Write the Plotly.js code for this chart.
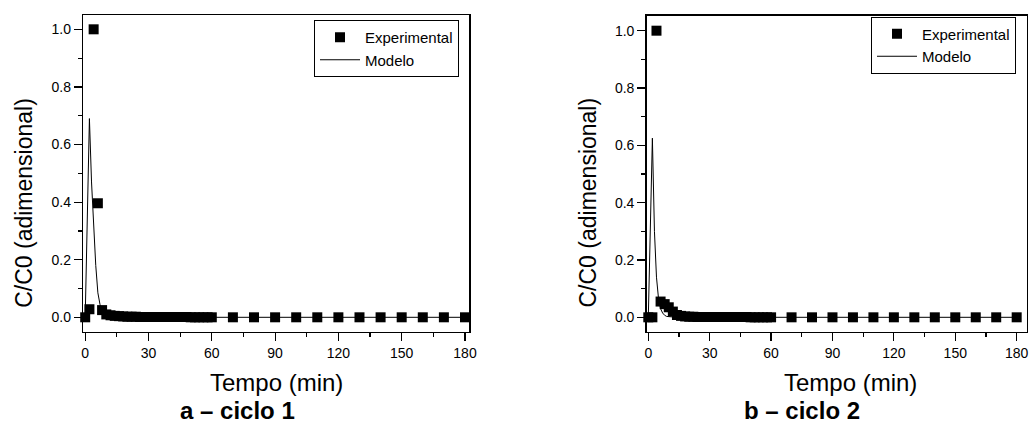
<!DOCTYPE html>
<html>
<head>
<meta charset="utf-8">
<script src="https://cdn.plot.ly/plotly-3.0.1.min.js"></script>
<style>html,body{margin:0;padding:0;background:#fff;}#chart{width:1031px;height:424px;}</style>
</head>
<body>
<div id="chart"></div>
<script>
// ---- data ----
var tExp = [0,2,4,6,8,10,12,14,16,18,20,22,24,26,28,30,32,34,36,38,40,42,44,46,48,50,52,54,56,58,60,70,80,90,100,110,120,130,140,150,160,170,180];
var ciclo1Exp = [0,0.028,1.0,0.396,0.025,0.010,0.007,0.005,0.004,0.003,0.002,0.002,0.002,0.001,0.001,0.001,0.001,0.001,0.001,0.001,0.001,0.001,0.001,0.001,0.001,0,0,0,0,0,0,0,0,0,0,0,0,0,0,0,0,0,0];
var ciclo2Exp = [0,0,1.0,0.055,0.046,0.035,0.020,0.008,0.005,0.003,0.002,0.002,0.001,0.001,0.001,0.001,0.001,0.001,0.001,0.001,0.001,0.001,0.001,0.001,0.001,0,0,0,0,0,0,0,0,0,0,0,0,0,0,0,0,0,0];
var tMod = [0,1,2,3,4,5,6,7,8,9,10,12,14,16,18,20,25,30,40,50,60,70,80,90,100,110,120,130,140,150,160,170,180];
var ciclo1Mod = [0,0.345,0.69,0.47,0.31,0.18,0.085,0.045,0.022,0.012,0.006,0.003,0.002,0.001,0.001,0,0,0,0,0,0,0,0,0,0,0,0,0,0,0,0,0,0];
var ciclo2Mod = [0,0.31,0.625,0.30,0.14,0.065,0.030,0.015,0.007,0.003,0.002,0.001,0,0,0,0,0,0,0,0,0,0,0,0,0,0,0,0,0,0,0,0,0];
var xTitle = "Tempo (min)";
var yTitle = "C/C0 (adimensional)";
var panelLabels = ["a – ciclo 1", "b – ciclo 2"];
var seriesNames = ["Experimental", "Modelo"];

// ---- styling ----
var FONT = "Arial, 'Liberation Sans', sans-serif";
function expTrace(y, xa, ya, lg){
  return {x:tExp, y:y, xaxis:xa, yaxis:ya, legend:lg, type:'scatter', mode:'markers', name:seriesNames[0],
    marker:{symbol:'square', size:10, color:'#000'}, cliponaxis:false};
}
function modTrace(y, xa, ya, lg){
  return {x:tMod, y:y, xaxis:xa, yaxis:ya, legend:lg, type:'scatter', mode:'lines', name:seriesNames[1],
    line:{color:'#000', width:1}};
}
var data = [
  expTrace(ciclo1Exp,'x','y','legend'), modTrace(ciclo1Mod,'x','y','legend'),
  expTrace(ciclo2Exp,'x2','y2','legend2'), modTrace(ciclo2Mod,'x2','y2','legend2')
];
function xAx(domain, range, anchor){
  return {domain:domain, range:range, anchor:anchor, tick0:0, dtick:30, ticks:'outside', ticklen:8, tickwidth:1.2,
    tickcolor:'#000', showline:true, linecolor:'#000', linewidth:1.5, mirror:true, showgrid:false, zeroline:false,
    tickfont:{family:FONT, size:14, color:'#000'},
    minor:{dtick:15, tick0:0, ticks:'outside', ticklen:4, tickwidth:1.2, tickcolor:'#000', showgrid:false}};
}
function yAx(domain, range, anchor){
  return {domain:domain, range:range, anchor:anchor, tick0:0, dtick:0.2, tickformat:'.1f', ticks:'outside', ticklen:8, tickwidth:1.2,
    tickcolor:'#000', showline:true, linecolor:'#000', linewidth:1.5, mirror:true, showgrid:false, zeroline:false,
    tickfont:{family:FONT, size:14, color:'#000'},
    minor:{dtick:0.1, tick0:0, ticks:'outside', ticklen:4, tickwidth:1.2, tickcolor:'#000', showgrid:false}};
}
function legendBox(x, y){
  return {x:x, y:y, xanchor:'right', yanchor:'top', bgcolor:'#fff', bordercolor:'#000', borderwidth:1,
    font:{family:FONT, size:15, color:'#000'}, tracegroupgap:0, itemwidth:40};
}
function ann(text, x, y, size, bold, rot){
  return {text: bold ? '<b>'+text+'</b>' : text, x:x, y:y, xref:'paper', yref:'paper', showarrow:false,
    xanchor:'center', yanchor:'middle', textangle:rot||0, borderpad:0, font:{family:FONT, size:size, color:'#000'}};
}
var W = 1031, H = 424;
var layout = {
  width:W, height:H, margin:{l:0,r:0,t:0,b:0}, paper_bgcolor:'#fff', plot_bgcolor:'#fff', showlegend:true,
  xaxis: xAx([83.3/W, 469/W], [-0.9, 181.9], 'y'),
  yaxis: yAx([1-331.7/H, 1-15/H], [-0.05, 1.0497], 'x'),
  xaxis2: xAx([646.7/W, 1026.5/W], [-0.78, 184.8], 'y2'),
  yaxis2: yAx([1-331.7/H, 1-15.7/H], [-0.0502, 1.0523], 'x2'),
  legend: legendBox(459/W, 1-20/H),
  legend2: legendBox(1016/W, 1-16.5/H),
  annotations: [
    ann(xTitle, 276.7/W, 1-382.5/H, 24, false),
    ann(xTitle, 850/W, 1-382.5/H, 24, false),
    ann(yTitle, 23.3/W, 1-202.5/H, 23, false, -90),
    ann(yTitle, 587/W, 1-202.5/H, 23, false, -90),
    ann(panelLabels[0], 237.5/W, 1-410.5/H, 24, true),
    ann(panelLabels[1], 801.7/W, 1-410.5/H, 24, true)
  ]
};
Plotly.newPlot('chart', data, layout, {staticPlot:true, displayModeBar:false});
</script>
</body>
</html>
